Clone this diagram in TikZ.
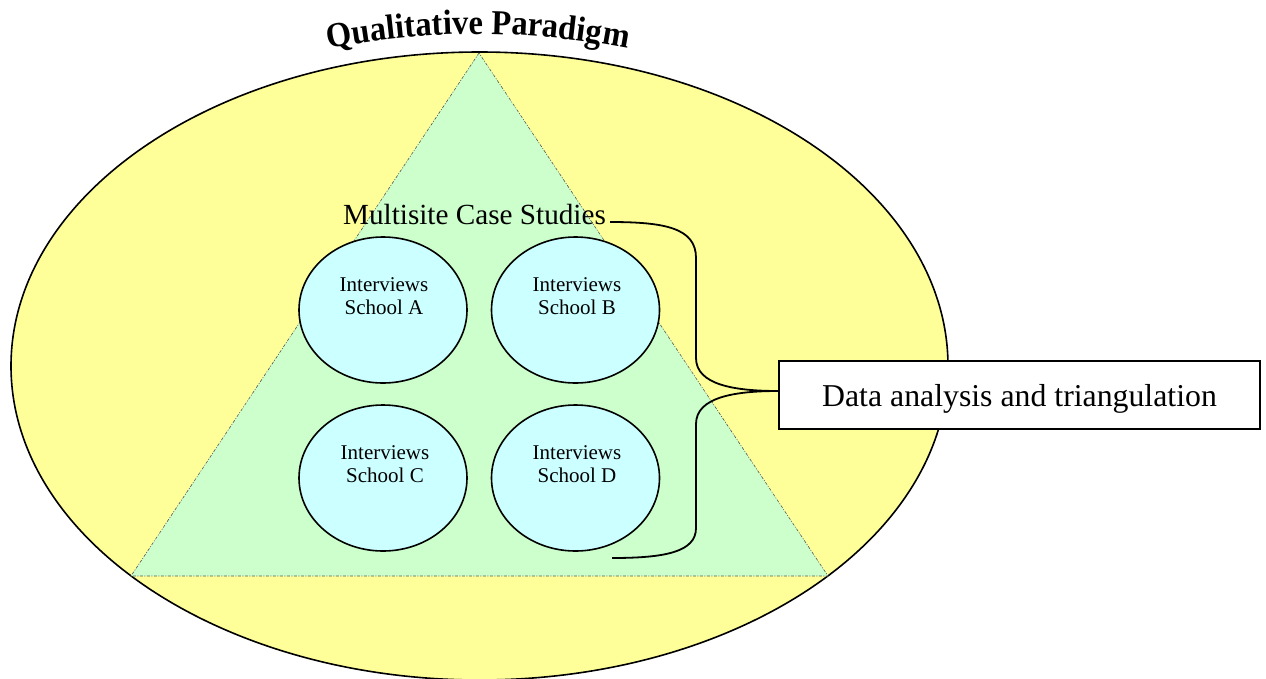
\documentclass[tikz,border=0pt]{standalone}
\usepackage{fontspec}
\setmainfont{Liberation Serif}
\newfontfamily\titlefont[FakeStretch=0.93]{Liberation Serif}
\usetikzlibrary{shapes.geometric,decorations.text}
\definecolor{paradigmfill}{HTML}{FFFF99}
\definecolor{trifill}{HTML}{CCFFCC}
\definecolor{schoolfill}{HTML}{CCFFFF}
\definecolor{triedge}{HTML}{555555}
\begin{document}
\begin{tikzpicture}[x=1pt,y=-1pt,
  paradigm/.style={ellipse,draw=black,line width=1.6pt,fill=paradigmfill,inner sep=0pt},
  tri/.style={fill=trifill,draw=triedge,line width=0.6pt,dash pattern=on 3pt off 1.5pt on 1pt off 1.5pt},
  school/.style={ellipse,draw=black,line width=1.6pt,fill=schoolfill,minimum width=168pt,minimum height=146pt,inner sep=0pt},
  schooltext/.style={align=center,font=\fontsize{21}{22.5}\selectfont,inner sep=0pt},
  linker/.style={draw=black,line width=1.8pt},
  outbox/.style={draw=black,line width=1.4pt,fill=white,minimum width=481pt,minimum height=68pt,inner sep=0pt,font=\fontsize{31.8}{34}\selectfont}]
\useasboundingbox (0,0) rectangle (1266,678);
\node[paradigm,minimum width=937pt,minimum height=628pt] (P) at (479.5,366) {};
\path[decorate,decoration={text along path,text align=center,
  text={|\titlefont\fontsize{35}{35}\selectfont\bfseries|Qualitative Paradigm}}]
  (478,812) ++(258:778) arc[start angle=258,end angle=282,radius=778];
\path[tri] (479,53) -- (131,576) -- (828,576) -- cycle;
\node[school] (A) at (383,310) {};
\node[school] (B) at (575.5,310) {};
\node[school] (C) at (383,478) {};
\node[school] (D) at (575.5,478) {};
\node[schooltext] (At) at (384,296) {Interviews\\School A};
\node[schooltext] (Bt) at (577,296) {Interviews\\School B};
\node[schooltext] (Ct) at (385,464) {Interviews\\School C};
\node[schooltext] (Dt) at (577,464) {Interviews\\School D};
\node[inner sep=0pt,font=\fontsize{29.2}{31}\selectfont] (M) at (474.5,215) {Multisite Case Studies};
\node[outbox] (box) at (1019.5,395) {\raisebox{-4pt}[0.69em][0.22em]{Data analysis and triangulation}};
\coordinate (u0) at (610,222);
\coordinate (l0) at (612,558);
\draw[linker] (u0) .. controls (665,222) and (696,228) .. (696,258) -- (696,358)
  .. controls (696,385) and (735,391) .. ([yshift=4pt]box.west);
\draw[linker] ([yshift=4pt]box.west) .. controls (735,391) and (696,397) .. (696,424) -- (696,528)
  .. controls (696,552) and (665,558) .. (l0);
\end{tikzpicture}
\end{document}
